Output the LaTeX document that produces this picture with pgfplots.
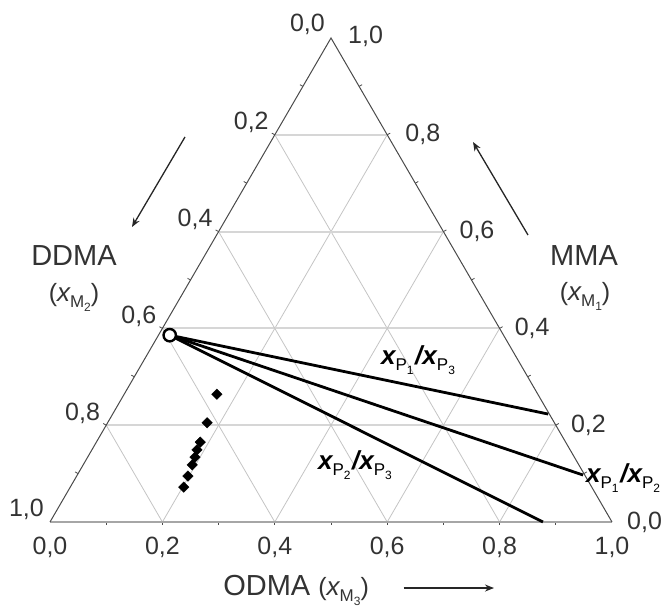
\documentclass[border=0pt]{standalone}
\usepackage{fontspec}
\setmainfont{Liberation Sans}
\usepackage{pgfplots}
\pgfplotsset{compat=1.18}
\usepackage{pgfplotstable}
\usetikzlibrary{arrows.meta}

\definecolor{txt}{HTML}{333333}
\definecolor{edge}{HTML}{4A4A4A}
\definecolor{grd}{HTML}{C4C4C4}
\definecolor{grdh}{HTML}{D6D6D6}

% ternary data: o = ODMA (x_M3), m = MMA (x_M1); DDMA = 1 - o - m
\pgfplotstableread{
o m
0.020 0.386
}\feed
\pgfplotstableread{
o m
0.020 0.386
0.775 0.223
}\lineA
\pgfplotstableread{
o m
0.020 0.386
0.900 0.097
}\lineB
\pgfplotstableread{
o m
0.020 0.386
0.877 0.000
}\lineC
\pgfplotstableread{
o m
0.165 0.264
0.177 0.205
0.185 0.165
0.187 0.149
0.191 0.134
0.194 0.118
0.198 0.095
0.202 0.072
}\diam

\newcommand{\tk}{\fontsize{25}{25}\selectfont}
\newcommand{\nm}{\fontsize{29}{29}\selectfont}
\newcommand{\xsub}[3]{{\fontsize{26}{26}\selectfont #1x}\raisebox{-6pt}{\fontsize{17}{17}\selectfont #2\raisebox{-4pt}{\fontsize{12}{12}\selectfont #3}}}
\newcommand{\ratio}[4]{\xsub{\bfseries\itshape}{P}{#1}\,{\fontsize{26}{26}\selectfont\bfseries\itshape /}\xsub{\bfseries\itshape}{#2}{#3}}

\begin{document}
\begin{tikzpicture}
\begin{axis}[name=ax, x=562pt, y=484pt,
  xmin=-0.08897, xmax=1.09964, ymin=-0.18182, ymax=1.07851,
  axis lines=none, clip=false, scale only axis]

% grid
\pgfplotsinvokeforeach{0.2,0.4,0.6,0.8}{
  \draw[grdh, line width=2pt] (axis cs:{0.5*#1},#1) -- (axis cs:{1-0.5*#1},#1);
  \draw[grd, line width=0.8pt] (axis cs:#1,0) -- (axis cs:{0.5+0.5*#1},{1-#1});
  \draw[grd, line width=0.8pt] (axis cs:{1-#1},0) -- (axis cs:{0.5-0.5*#1},{1-#1});
}
% minor ticks
\pgfplotsinvokeforeach{0.1,0.2,0.3,0.4,0.5,0.6,0.7,0.8,0.9}{
  \draw[edge, line width=0.8pt] (axis cs:#1,0) -- (axis cs:#1,-0.0072);
  \draw[edge, line width=0.8pt] (axis cs:{0.5*#1},#1) -- (axis cs:{0.5*#1-0.0053},{#1+0.0035});
  \draw[edge, line width=0.8pt] (axis cs:{1-0.5*#1},#1) -- (axis cs:{1-0.5*#1+0.0053},{#1+0.0035});
}
% edges
\draw[gray!70, line width=1.8pt] (axis cs:0,0) -- (axis cs:1,0);
\draw[edge, line width=1pt] (axis cs:1,0) -- (axis cs:0.5,1) -- (axis cs:0,0);

% data
\addplot[black, line width=2.8pt] table[x expr=\thisrow{o}+0.5*\thisrow{m}, y expr=\thisrow{m}] {\lineA};
\addplot[black, line width=2.8pt] table[x expr=\thisrow{o}+0.5*\thisrow{m}, y expr=\thisrow{m}] {\lineB};
\addplot[black, line width=2.8pt] table[x expr=\thisrow{o}+0.5*\thisrow{m}, y expr=\thisrow{m}] {\lineC};
\addplot[only marks, mark=square*, mark size=3.7pt, mark options={rotate=45}, black] table[x expr=\thisrow{o}+0.5*\thisrow{m}, y expr=\thisrow{m}] {\diam};
\addplot[only marks, mark=*, mark size=6.2pt, mark options={fill=white, draw=black, line width=2.4pt}] table[x expr=\thisrow{o}+0.5*\thisrow{m}, y expr=\thisrow{m}] {\feed};

% bottom tick labels (ODMA)
\node[txt, anchor=north, inner sep=0pt] at ([yshift=-15pt]axis cs:0,0) {\tk 0,0};
\node[txt, anchor=north, inner sep=0pt] at ([yshift=-15pt]axis cs:0.2,0) {\tk 0,2};
\node[txt, anchor=north, inner sep=0pt] at ([yshift=-15pt]axis cs:0.4,0) {\tk 0,4};
\node[txt, anchor=north, inner sep=0pt] at ([yshift=-15pt]axis cs:0.6,0) {\tk 0,6};
\node[txt, anchor=north, inner sep=0pt] at ([yshift=-15pt]axis cs:0.8,0) {\tk 0,8};
\node[txt, anchor=north, inner sep=0pt] at ([yshift=-15pt]axis cs:1,0) {\tk 1,0};
% left tick labels (DDMA)
\node[txt, anchor=base east, inner sep=0pt] at ([xshift=-6pt,yshift=6pt]axis cs:0.5,1) {\tk 0,0};
\node[txt, anchor=base east, inner sep=0pt] at ([xshift=-6pt,yshift=5pt]axis cs:0.4,0.8) {\tk 0,2};
\node[txt, anchor=base east, inner sep=0pt] at ([xshift=-6pt,yshift=5pt]axis cs:0.3,0.6) {\tk 0,4};
\node[txt, anchor=base east, inner sep=0pt] at ([xshift=-6pt,yshift=5pt]axis cs:0.2,0.4) {\tk 0,6};
\node[txt, anchor=base east, inner sep=0pt] at ([xshift=-6pt,yshift=5pt]axis cs:0.1,0.2) {\tk 0,8};
\node[txt, anchor=base east, inner sep=0pt] at ([xshift=-6pt,yshift=5pt]axis cs:0,0) {\tk 1,0};
% right tick labels (MMA)
\node[txt, anchor=west, inner sep=0pt] at ([xshift=17pt,yshift=2pt]axis cs:0.5,1) {\tk 1,0};
\node[txt, anchor=west, inner sep=0pt] at ([xshift=18pt]axis cs:0.6,0.8) {\tk 0,8};
\node[txt, anchor=west, inner sep=0pt] at ([xshift=16pt]axis cs:0.7,0.6) {\tk 0,6};
\node[txt, anchor=west, inner sep=0pt] at ([xshift=15pt]axis cs:0.8,0.4) {\tk 0,4};
\node[txt, anchor=west, inner sep=0pt] at ([xshift=15pt]axis cs:0.9,0.2) {\tk 0,2};
\node[txt, anchor=west, inner sep=0pt] at ([xshift=15pt]axis cs:1,0) {\tk 0,0};

% axis names
\node[txt, inner sep=0pt] at (axis cs:0.0427,0.5496) {\nm DDMA};
\node[txt, inner sep=0pt] at (axis cs:0.0427,0.4649) {\tk(\xsub{\itshape}{M}{2})};
\node[txt, inner sep=0pt] at (axis cs:0.9502,0.5496) {\nm MMA};
\node[txt, inner sep=0pt] at (axis cs:0.9520,0.4670) {\tk(\xsub{\itshape}{M}{1})};
\node[txt, anchor=west, inner sep=0pt] at (axis cs:0.3080,-0.1405) {\nm ODMA {\tk(\xsub{\itshape}{M}{3})}};

% arrows
\draw[black!85, line width=1.3pt, -{Stealth[length=9pt,width=7pt]}] (axis cs:0.2402,0.7955) -- (axis cs:0.1459,0.6095);
\draw[black!85, line width=1.3pt, -{Stealth[length=9pt,width=7pt]}] (axis cs:0.8505,0.5930) -- (axis cs:0.7527,0.7851);
\draw[black!85, line width=1.3pt, -{Stealth[length=9pt,width=7pt]}] (axis cs:0.6290,-0.1364) -- (axis cs:0.7900,-0.1364);

% ratio labels
\node[black, inner sep=0pt] at (axis cs:0.6548,0.3347) {\ratio{1}{P}{3}{}};
\node[black, inner sep=0pt] at (axis cs:0.5427,0.1178) {\ratio{2}{P}{3}{}};
\node[black, anchor=west, inner sep=0pt] at (axis cs:0.9537,0.0909) {\ratio{1}{P}{2}{}};

\coordinate (bbsw) at (rel axis cs:0,0);
\coordinate (bbne) at (rel axis cs:1,1);
\end{axis}
\pgfresetboundingbox
\useasboundingbox (bbsw) rectangle (bbne);
\end{tikzpicture}
\end{document}
